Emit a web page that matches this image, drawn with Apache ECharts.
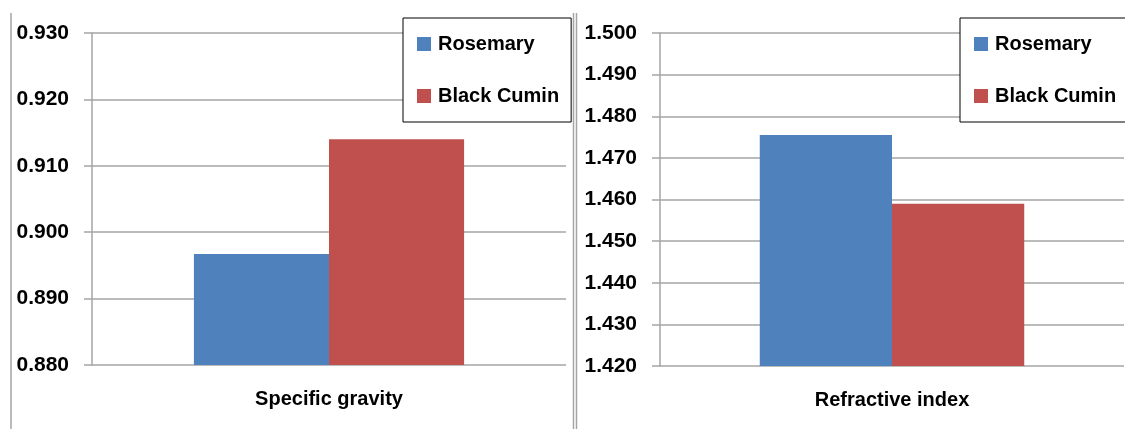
<!DOCTYPE html>
<html>
<head>
<meta charset="utf-8">
<script src="https://cdn.jsdelivr.net/npm/echarts@6/dist/echarts.min.js"></script>
<style>
  html, body { margin: 0; padding: 0; background: #fff; }
  #chart { width: 1125px; height: 429px; }
</style>
</head>
<body>
<div id="chart"></div>
<script>
// Physical properties of the two essential oils
const seriesNames = ['Rosemary', 'Black Cumin'];
const sgCategories = ['Specific gravity'];
const riCategories = ['Refractive index'];
const rosemarySG = [0.8967];
const blackCuminSG = [0.914];
const rosemaryRI = [1.4755];
const blackCuminRI = [1.459];
// value-axis ranges: [min, max, step]
const sgAxisRange = [0.88, 0.93, 0.01];
const riAxisRange = [1.42, 1.50, 0.01];

const FONT = '"Liberation Sans", Arial, sans-serif';
const GRID_GREY = '#A5A5A5';
const COLORS = ['#4F81BD', '#C0504D'];

function valueAxis(gridIndex, range) {
  return {
    type: 'value',
    gridIndex: gridIndex,
    min: range[0],
    max: range[1],
    interval: range[2],
    axisLine: { show: true, lineStyle: { color: GRID_GREY, width: 1.5 } },
    axisTick: { show: true, inside: false, length: 8, lineStyle: { color: GRID_GREY, width: 1.5 } },
    splitLine: { show: true, lineStyle: { color: GRID_GREY, width: 1.5 } },
    axisLabel: {
      margin: 23,
      color: '#000',
      fontFamily: FONT,
      fontWeight: 'bold',
      fontSize: 21,
      formatter: v => v.toFixed(3)
    }
  };
}

function categoryAxis(gridIndex, cats) {
  return {
    type: 'category',
    gridIndex: gridIndex,
    data: cats,
    axisLine: { show: false },
    axisTick: { show: false },
    axisLabel: {
      margin: 24,
      color: '#000',
      fontFamily: FONT,
      fontWeight: 'bold',
      fontSize: 20
    }
  };
}

function legend(left) {
  return {
    orient: 'vertical',
    left: left,
    top: 18,
    data: seriesNames,
    backgroundColor: '#fff',
    borderColor: '#000',
    borderWidth: 1,
    borderRadius: 0,
    padding: [15, 12, 15, 14],
    itemWidth: 14,
    itemHeight: 14,
    itemGap: 30,
    icon: 'rect',
    selectedMode: false,
    textStyle: {
      color: '#000',
      fontFamily: FONT,
      fontWeight: 'bold',
      fontSize: 20,
      lineHeight: 22,
      padding: [0, 0, 0, 2]
    },
    z: 10
  };
}

function bar(name, gridIndex, data, color) {
  return {
    name: name,
    type: 'bar',
    xAxisIndex: gridIndex,
    yAxisIndex: gridIndex,
    data: data,
    barGap: '0%',
    barCategoryGap: '43%',
    itemStyle: { color: color },
    clip: true,
    silent: true,
    z: 2
  };
}

const chart = echarts.init(document.getElementById('chart'), null, { renderer: 'canvas' });
chart.setOption({
  animation: false,
  backgroundColor: '#fff',
  color: COLORS,
  grid: [
    { left: 92, right: 559, top: 33, bottom: 64 },
    { left: 660, right: 1, top: 33, bottom: 63 }
  ],
  xAxis: [categoryAxis(0, sgCategories), categoryAxis(1, riCategories)],
  yAxis: [valueAxis(0, sgAxisRange), valueAxis(1, riAxisRange)],
  legend: [legend(403), legend(960)],
  series: [
    bar(seriesNames[0], 0, rosemarySG, COLORS[0]),
    bar(seriesNames[1], 0, blackCuminSG, COLORS[1]),
    bar(seriesNames[0], 1, rosemaryRI, COLORS[0]),
    bar(seriesNames[1], 1, blackCuminRI, COLORS[1])
  ],
  graphic: [
    // outer frame edge on the left
    { type: 'line', shape: { x1: 11, y1: 13, x2: 11, y2: 429 },
      style: { stroke: GRID_GREY, lineWidth: 1.5 }, silent: true },
    // double divider between the two panels
    { type: 'line', shape: { x1: 573.5, y1: 13, x2: 573.5, y2: 429 },
      style: { stroke: GRID_GREY, lineWidth: 1.5 }, silent: true },
    { type: 'line', shape: { x1: 576.5, y1: 13, x2: 576.5, y2: 429 },
      style: { stroke: GRID_GREY, lineWidth: 1.5 }, silent: true }
  ]
});
</script>
</body>
</html>
